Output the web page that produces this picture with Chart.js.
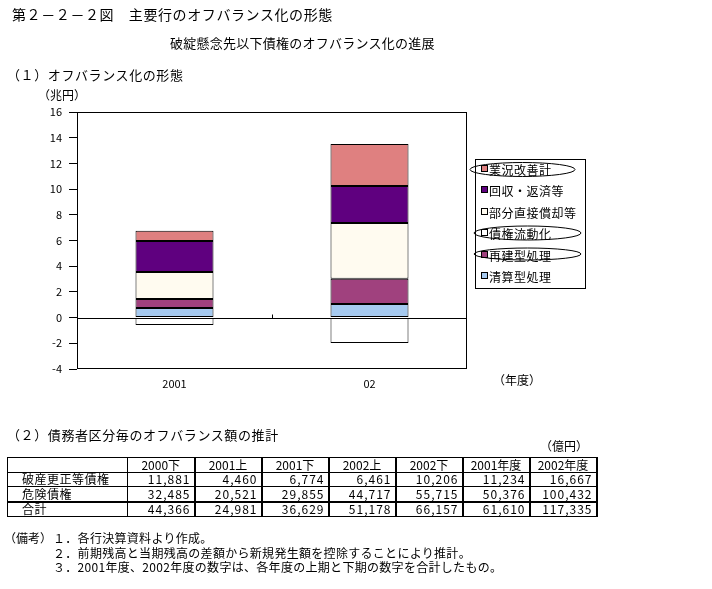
<!DOCTYPE html>
<html><head><meta charset="utf-8">
<script src="https://cdn.jsdelivr.net/npm/chart.js@4.4.1/dist/chart.umd.min.js"></script>
<style>
body{margin:0;width:712px;height:589px;background:#fff;position:relative;overflow:hidden;font-family:"Noto Sans CJK JP","Noto Sans CJK SC",sans-serif;color:#000}
.t{position:absolute;white-space:nowrap;line-height:1}
#c{position:absolute;left:0;top:0}
#tbl{position:absolute;left:7px;top:457px;border-collapse:collapse;font-size:12px;table-layout:fixed;width:590px}
#tbl td{border:1px solid #000;padding:0 3px;height:13.5px;line-height:1;overflow:hidden;white-space:nowrap}
#tbl td.n{text-align:right;border-right:2px solid #000;letter-spacing:1px}
#tbl td.h{text-align:center;border-right:2px solid #000}
#tbl td.l{padding-left:14px;letter-spacing:0.5px}
#tbl tr.tot td{border-top:2px solid #000}
</style></head><body>
<canvas id="c" width="712" height="589"></canvas>
<div class="t" style="left:12px;top:7px;font-size:14px;letter-spacing:0.6px">第２－２－２図　主要行のオフバランス化の形態</div>
<div class="t" style="left:170px;top:36px;font-size:13px;letter-spacing:0.25px">破綻懸念先以下債権のオフバランス化の進展</div>
<div class="t" style="left:7px;top:68px;font-size:13px;letter-spacing:0.6px">（１）オフバランス化の形態</div>
<div class="t" style="left:38px;top:89px;font-size:12px">（兆円）</div>
<div class="t" style="left:493px;top:374px;font-size:12px">（年度）</div>
<div class="t" style="left:7px;top:428px;font-size:13px;letter-spacing:0.6px">（２）債務者区分毎のオフバランス額の推計</div>
<div class="t" style="left:540px;top:440px;font-size:12px">（億円）</div>
<table id="tbl"></table>
<div class="t" style="left:4px;top:532px;font-size:12px">（備考）</div>
<div class="t" style="left:53px;top:532px;font-size:12px;letter-spacing:0.3px">１．各行決算資料より作成。</div>
<div class="t" style="left:53px;top:547px;font-size:12px;letter-spacing:0.3px">２．前期残高と当期残高の差額から新規発生額を控除することにより推計。</div>
<div class="t" style="left:53px;top:561px;font-size:12px;letter-spacing:0.3px">３．2001年度、2002年度の数字は、各年度の上期と下期の数字を合計したもの。</div>
<script>
// ---- chart data (兆円) ----
const categories = ["2001", "02"];
const gyokyo  = [0.78, 3.27];   // 業況改善計
const kaishu  = [2.42, 2.88];   // 回収・返済等
const bubun   = [2.10, 4.33];   // 部分直接償却等
const ryudoka = [-0.57, -1.97]; // 債権流動化
const saiken  = [0.70, 1.97];   // 再建型処理
const seisan  = [0.75, 1.06];   // 清算型処理
const yMin = -4, yMax = 16, yStep = 2;

// ---- table data (億円) ----
const tableCols = ["2000下","2001上","2001下","2002上","2002下","2001年度","2002年度"];
const rowLabels = ["破産更正等債権","危険債権","合計"];
const hasanRow  = ["11,881","4,460","6,774","6,461","10,206","11,234","16,667"];
const kikenRow  = ["32,485","20,521","29,855","44,717","55,715","50,376","100,432"];
const totalRow  = ["44,366","24,981","36,629","51,178","66,157","61,610","117,335"];

// build table
(function(){
  const t = document.getElementById('tbl');
  let html = '<colgroup><col style="width:120px">' + tableCols.map(()=>'<col style="width:67px">').join('') + '</colgroup>';
  html += '<tr><td></td>' + tableCols.map(c=>'<td class="h">'+c+'</td>').join('') + '</tr>';
  [hasanRow, kikenRow, totalRow].forEach((r,i)=>{
    html += '<tr' + (i===2?' class="tot"':'') + '><td class="l">'+rowLabels[i]+'</td>' + r.map(v=>'<td class="n">'+v+'</td>').join('') + '</tr>';
  });
  t.innerHTML = html;
})();

const FONT = '"Noto Sans CJK JP","Noto Sans CJK SC",sans-serif';

const datasets = [
  {label:"清算型処理", data:seisan, backgroundColor:"#A6CAF0"},
  {label:"再建型処理", data:saiken, backgroundColor:"#A0417E"},
  {label:"債権流動化", data:ryudoka, backgroundColor:"#FFFFFF"},
  {label:"部分直接償却等", data:bubun, backgroundColor:"#FFFBF0"},
  {label:"回収・返済等", data:kaishu, backgroundColor:"#5F007F"},
  {label:"業況改善計", data:gyokyo, backgroundColor:"#DF8080"}
].map(d=>Object.assign(d,{borderColor:"#000",borderWidth:1,borderSkipped:false,categoryPercentage:0.4,barPercentage:1}));

const legendOrder = [5,4,3,2,1,0];
const ellipses = [
  {cx:522.5, cy:169.5, rx:52.5, ry:7},
  {cx:527.5, cy:233, rx:53.5, ry:7},
  {cx:527.5, cy:254, rx:53.5, ry:6}
];

const decor = {
  id:'decor',
  afterDraw(chart){
    const {ctx, chartArea:a, scales:{x,y}} = chart;
    ctx.save();
    ctx.strokeStyle='#000'; ctx.lineWidth=1;
    // plot frame
    ctx.strokeRect(Math.round(a.left)+0.5, Math.round(a.top)+0.5, Math.round(a.right-a.left)-1, Math.round(a.bottom-a.top)-1);
    // zero line
    const y0 = Math.round(y.getPixelForValue(0))+0.5;
    ctx.beginPath(); ctx.moveTo(a.left,y0); ctx.lineTo(a.right,y0); ctx.stroke();
    // category boundary tick
    const xb = Math.round((x.getPixelForValue(0)+x.getPixelForValue(1))/2)+0.5;
    ctx.beginPath(); ctx.moveTo(xb,y0); ctx.lineTo(xb,y0-4); ctx.stroke();
    // legend box
    ctx.strokeRect(475.5,159.5,110,129);
    ctx.font = '12px '+FONT;
    ctx.letterSpacing = '0.5px';
    ctx.textBaseline='middle'; ctx.textAlign='left';
    legendOrder.forEach((di,i)=>{
      const ds = chart.data.datasets[di];
      const yy = Math.round(169 + i*21.4);
      ctx.fillStyle = ds.backgroundColor;
      ctx.fillRect(481.5, yy-3.5, 6, 6);
      ctx.strokeStyle='#000';
      ctx.strokeRect(481.5, yy-3.5, 6, 6);
      ctx.fillStyle='#000';
      ctx.fillText(ds.label, 489, yy+1);
    });
    // hand-drawn ellipses around highlighted legend entries
    ellipses.forEach(e=>{
      ctx.beginPath(); ctx.ellipse(e.cx,e.cy,e.rx,e.ry,0,0,Math.PI*2); ctx.stroke();
    });
    ctx.restore();
  }
};

new Chart(document.getElementById('c'), {
  type:'bar',
  data:{labels:categories, datasets},
  options:{
    responsive:false, animation:false,
    layout:{padding:{left:0,top:112,right:245,bottom:0}},
    plugins:{legend:{display:false},tooltip:{enabled:false}},
    scales:{
      x:{stacked:true, grid:{display:false,drawTicks:false}, border:{display:false},
         ticks:{color:'#000',font:{family:FONT,size:11},padding:8},
         afterFit(s){ s.height = 589-369; }},
      y:{stacked:true, min:yMin, max:yMax,
         ticks:{stepSize:yStep,color:'#000',font:{family:FONT,size:11},padding:7},
         grid:{color:'transparent',tickColor:'#000',tickLength:8,drawOnChartArea:false},
         border:{display:false},
         afterFit(s){ s.width = 77; }}
    }
  },
  plugins:[decor]
});
</script>
</body></html>
